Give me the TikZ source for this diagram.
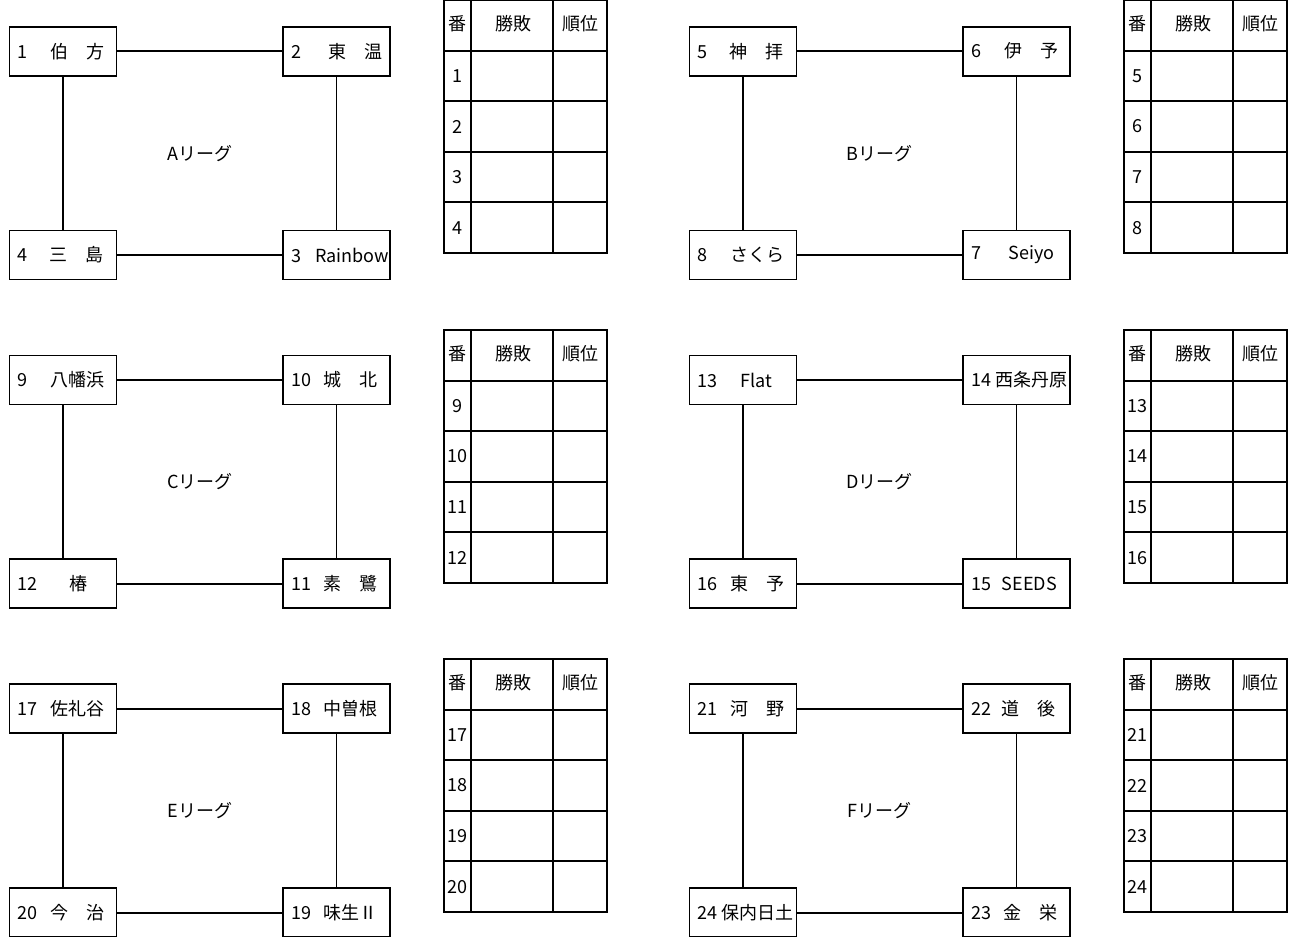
\documentclass[tikz,border=0pt]{standalone}
\usepackage{fontspec}
\setmainfont{Noto Sans CJK JP}
\usetikzlibrary{positioning,calc}

\begin{document}
\begin{tikzpicture}[
  x=0.75pt, y=-0.75pt,
  every node/.style={font=\fontsize{13.5pt}{16pt}\selectfont},
  team/.style={draw, line width=1.4pt, minimum width=80.25pt, minimum height=36.75pt,
    inner xsep=6pt, execute at begin node={\hbox to 68.25pt\bgroup},
    execute at end node={\hfil\egroup}},
  link/.style={line width=1.4pt},
  league/.style={inner sep=0pt},
  grid/.style={line width=1.4pt},
  cell/.style={inner sep=0pt}
]
\useasboundingbox (0,0) rectangle (1294,937);
% A league
\node[team] (t1) at (63,51.2) {1\hspace{1.3em}伯　方};
\node[team, right=123.5pt of t1] (t2) {2\hspace{1.5em}東　温};
\node[team, below=114.75pt of t1] (t4) {4\hspace{1.2em}三　島};
\node[team, right=123.5pt of t4] (t3) {3\hspace{0.8em}Rainbow};
\node[league] (lgA) at ($(t1)!0.5!(t3)$) {Aリーグ};
\draw[link] (t1) -- (t2);
\draw[link] (t2) -- (t3);
\draw[link] (t3) -- (t4);
\draw[link] (t4) -- (t1);
% B league
\node[team] (t5) at (743,51.2) {5\hspace{1.2em}神　拝};
\node[team, right=123.5pt of t5] (t6) {6\hspace{1.3em}伊　予};
\node[team, below=114.75pt of t5] (t8) {8\hspace{1.3em}さくら};
\node[team, right=123.5pt of t8] (t7) {7\hspace{1.55em}Seiyo};
\node[league] (lgB) at ($(t5)!0.5!(t7)$) {Bリーグ};
\draw[link] (t5) -- (t6);
\draw[link] (t6) -- (t7);
\draw[link] (t7) -- (t8);
\draw[link] (t8) -- (t5);
% C league
\node[team] (t9) at (63,380) {9\hspace{1.3em}八幡浜};
\node[team, right=123.5pt of t9] (t10) {10\hspace{0.7em}城　北};
\node[team, below=114.75pt of t9] (t12) {12\hspace{1.8em}椿};
\node[team, right=123.5pt of t12] (t11) {11\hspace{0.7em}素　鷺};
\node[league] (lgC) at ($(t9)!0.5!(t11)$) {Cリーグ};
\draw[link] (t9) -- (t10);
\draw[link] (t10) -- (t11);
\draw[link] (t11) -- (t12);
\draw[link] (t12) -- (t9);
% D league
\node[team] (t13) at (743,380) {13\hspace{1.3em}Flat};
\node[team, right=123.5pt of t13] (t14) {14\hspace{0.25em}西条丹原};
\node[team, below=114.75pt of t13] (t16) {16\hspace{0.7em}東　予};
\node[team, right=123.5pt of t16] (t15) {15\hspace{0.6em}SEEDS};
\node[league] (lgD) at ($(t13)!0.5!(t15)$) {Dリーグ};
\draw[link] (t13) -- (t14);
\draw[link] (t14) -- (t15);
\draw[link] (t15) -- (t16);
\draw[link] (t16) -- (t13);
% E league
\node[team] (t17) at (63,708.7) {17\hspace{0.7em}佐礼谷};
\node[team, right=123.5pt of t17] (t18) {18\hspace{0.7em}中曽根};
\node[team, below=114.75pt of t17] (t20) {20\hspace{0.7em}今　治};
\node[team, right=123.5pt of t20] (t19) {19\hspace{0.7em}味生Ⅱ};
\node[league] (lgE) at ($(t17)!0.5!(t19)$) {Eリーグ};
\draw[link] (t17) -- (t18);
\draw[link] (t18) -- (t19);
\draw[link] (t19) -- (t20);
\draw[link] (t20) -- (t17);
% F league
\node[team] (t21) at (743,708.7) {21\hspace{0.7em}河　野};
\node[team, right=123.5pt of t21] (t22) {22\hspace{0.6em}道　後};
\node[team, below=114.75pt of t21] (t24) {24\hspace{0.25em}保内日土};
\node[team, right=123.5pt of t24] (t23) {23\hspace{0.7em}金　栄};
\node[league] (lgF) at ($(t21)!0.5!(t23)$) {Fリーグ};
\draw[link] (t21) -- (t22);
\draw[link] (t22) -- (t23);
\draw[link] (t23) -- (t24);
\draw[link] (t24) -- (t21);
% score tables
\foreach \tb/\ox/\oy/\first in {A/444/0/1, B/1124/0/5, C/444/330/9,
    D/1124/330/13, E/444/659/17, F/1124/659/21}{
  \draw[grid] (\ox,\oy) rectangle ++(163,253);
  \foreach \c in {27,109} \draw[grid] (\ox+\c,\oy) -- ++(0,253);
  \foreach \r in {1,...,4} \draw[grid] (\ox,\oy+\r*50.6) -- ++(163,0);
  \node[cell] (no-\tb) at (\ox+13.5,\oy+24) {番};
  \node[cell] (wl-\tb) at (\ox+69,\oy+24) {勝敗};
  \node[cell] (rk-\tb) at (\ox+136,\oy+24) {順位};
  \foreach \r in {1,...,4}{
    \pgfmathtruncatemacro\num{\first+\r-1}
    \node[cell] (n\num) at (\ox+13.5,\oy+25.3+\r*50.6) {\num};
  }
}
\end{tikzpicture}
\end{document}
